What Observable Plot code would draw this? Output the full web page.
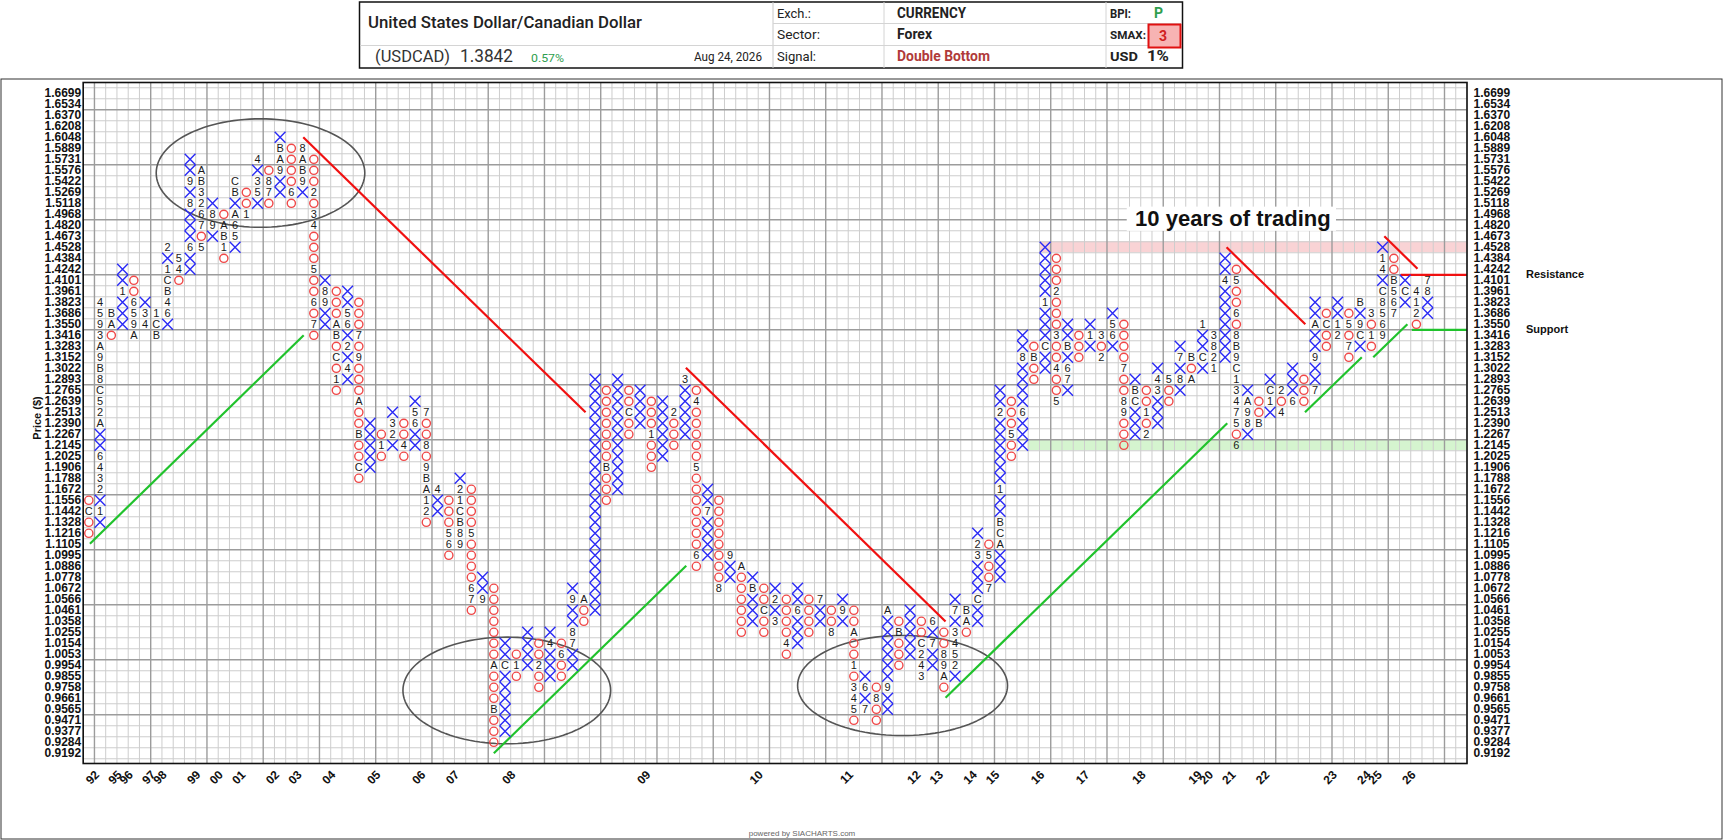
<!DOCTYPE html>
<html>
<head>
<meta charset="utf-8">
<script src="https://cdn.jsdelivr.net/npm/d3@7"></script>
<script src="https://cdn.jsdelivr.net/npm/@observablehq/plot@0.6"></script>
<style>
  body { margin: 0; background: #fff; }
  #wrap { position: relative; width: 1724px; height: 840px; overflow: hidden; background: #fff; }
  #chart { position: absolute; left: 0; top: 0; }
  #overlay { position: absolute; left: 0; top: 0; pointer-events: none; }
</style>
</head>
<body>
<div id="wrap">
  <div id="chart"></div>
  <svg id="overlay" width="1724" height="840" font-family="Roboto, 'Liberation Sans', Arial, sans-serif">
    <rect x="1" y="79" width="1721" height="760" fill="none" stroke="#333" stroke-width="1"/>
    <g id="header">
      <rect x="359.5" y="2" width="823" height="66" fill="#fff" stroke="#111" stroke-width="1.5"/>
      <line x1="773" y1="2" x2="773" y2="68" stroke="#c8c8c8"/>
      <line x1="884" y1="2" x2="884" y2="68" stroke="#d4d4d4"/>
      <line x1="1106" y1="2" x2="1106" y2="68" stroke="#d4d4d4"/>
      <line x1="773" y1="23.5" x2="1182" y2="23.5" stroke="#d4d4d4"/>
      <line x1="360" y1="45.5" x2="1182" y2="45.5" stroke="#d4d4d4"/>
      <text x="368" y="28" font-size="17" font-weight="500" fill="#222" textLength="274" lengthAdjust="spacingAndGlyphs">United States Dollar/Canadian Dollar</text>
      <text x="375" y="62" font-size="17" fill="#333" textLength="75" lengthAdjust="spacingAndGlyphs">(USDCAD)</text>
      <text x="460" y="62" font-size="19" fill="#333" textLength="53" lengthAdjust="spacingAndGlyphs">1.3842</text>
      <text x="531" y="62" font-size="11" fill="#2e9e4e" textLength="33" lengthAdjust="spacingAndGlyphs">0.57%</text>
      <text x="694" y="61" font-size="13" fill="#222" textLength="68" lengthAdjust="spacingAndGlyphs">Aug 24, 2026</text>
      <text x="777" y="17.5" font-size="13" fill="#222" textLength="34" lengthAdjust="spacingAndGlyphs">Exch.:</text>
      <text x="777" y="39" font-size="13" fill="#222" textLength="43" lengthAdjust="spacingAndGlyphs">Sector:</text>
      <text x="777" y="61" font-size="13" fill="#222" textLength="39" lengthAdjust="spacingAndGlyphs">Signal:</text>
      <text x="897" y="17.5" font-size="14" font-weight="bold" fill="#222" textLength="69" lengthAdjust="spacingAndGlyphs">CURRENCY</text>
      <text x="897" y="39" font-size="14" font-weight="bold" fill="#222" textLength="35" lengthAdjust="spacingAndGlyphs">Forex</text>
      <text x="897" y="61" font-size="14" font-weight="bold" fill="#b03a3a" textLength="93" lengthAdjust="spacingAndGlyphs">Double Bottom</text>
      <text x="1110" y="17.5" font-size="13" font-weight="bold" fill="#222" textLength="21" lengthAdjust="spacingAndGlyphs">BPI:</text>
      <text x="1154" y="17.5" font-size="14" font-weight="bold" fill="#2e9e4e">P</text>
      <text x="1110" y="39" font-size="10" font-weight="bold" fill="#222" textLength="36" lengthAdjust="spacingAndGlyphs">SMAX:</text>
      <rect x="1148.5" y="24.5" width="32" height="23" fill="#f7b3b3" stroke="#e01010" stroke-width="2"/>
      <text x="1159" y="41" font-size="14" font-weight="bold" fill="#d02020">3</text>
      <text x="1110" y="61" font-size="13" font-weight="bold" fill="#222" textLength="28" lengthAdjust="spacingAndGlyphs">USD</text>
      <text x="1147" y="61" font-size="14" font-weight="bold" fill="#222" textLength="22" lengthAdjust="spacingAndGlyphs">1%</text>
    </g>
    <text transform="translate(41,418) rotate(-90)" text-anchor="middle" font-size="11" font-weight="bold" fill="#111" font-family="'Liberation Sans', Arial, sans-serif">Price ($)</text>
    <text x="802" y="836" text-anchor="middle" font-size="8" fill="#666" font-family="'Liberation Sans', Arial, sans-serif">powered by SIACHARTS.com</text>
  </svg>
</div>
<script>
// ---------- DATA ----------
// Box prices (1% box size), index 0 = bottom row
const boxPrices = [
  0.9192, 0.9284, 0.9377, 0.9471, 0.9565, 0.9661, 0.9758, 0.9855, 0.9954, 1.0053,
  1.0154, 1.0255, 1.0358, 1.0461, 1.0566, 1.0672, 1.0778, 1.0886, 1.0995, 1.1105,
  1.1216, 1.1328, 1.1442, 1.1556, 1.1672, 1.1788, 1.1906, 1.2025, 1.2145, 1.2267,
  1.2390, 1.2513, 1.2639, 1.2765, 1.2893, 1.3022, 1.3152, 1.3283, 1.3416, 1.3550,
  1.3686, 1.3823, 1.3961, 1.4101, 1.4242, 1.4384, 1.4528, 1.4673, 1.4820, 1.4968,
  1.5118, 1.5269, 1.5422, 1.5576, 1.5731, 1.5889, 1.6048, 1.6208, 1.6370, 1.6534,
  1.6699
];

// Column types (O = falling column, X = rising column)
const colTypes = [
  "OXOXOXOXOXOXOXOXOXOX",
  "OXOXOXOXOXOXOXOXOXOX",
  "OXOXOXOXOXOXOXOXOXOX",
  "OXOXOXOXOXOXOXOXOXOX",
  "OXOXOXOXOXOXOXOXOXOX",
  "OXOXOXOXOXOXOXOXOXOX"
].join("");

// Lowest box (row index) of each column
const colBottom = [
  20, 21, 38, 39, 38, 39, 38, 39, 43, 44,
  46, 47, 45, 46, 49, 50, 50, 51, 50, 51,
  38, 39, 33, 34, 25, 26, 27, 28, 27, 28,
  21, 22, 18, 19, 13, 14, 1, 2, 7, 8,
  6, 7, 7, 8, 12, 13, 23, 24, 29, 30,
  26, 27, 28, 29, 17, 18, 15, 16, 11, 12,
  11, 12, 9, 10, 11, 12, 11, 12, 3, 4,
  3, 4, 8, 9, 7, 8, 6, 7, 11, 12,
  15, 16, 27, 28, 34, 35, 32, 33, 36, 37,
  36, 37, 28, 29, 29, 30, 32, 33, 34, 35,
  35, 36, 28, 29, 30, 31, 31, 32, 32, 33,
  37, 38, 36, 37, 37, 38, 40, 41, 39, 40
];

// Boxes of each column from bottom to top: "." = plain X/O, other = month marker
const colBoxes = [
  "..C.", ".1.2346..A25C8B9A3954", ".AB", "...1..", "A956..", "43.", "BC1", ".64BC1.2", ".45", "..6...8.9..",
  "5.7623BA", ".98.", ".1BA.", ".56A.BC", "1..", ".53.4", ".78.", "..9AB.", ".6....", ".9BA8",
  ".7.6..5...43.2...", "..98.", ".1.C.BA...", ".4.2.65..", ".C..B..A...9.7...", ".....", ".1.", ".23.", ".4..", "..65.",
  ".21AB9.8..7", "..4", ".65...", "98BC12.", ".76....5....", "9..", "...B...A.......", "......C..", ".1.", "....",
  "..2..", "...4.", "..6.", "..78..9.", "..A", "......................", "...B.......", "...........", "..C..", "....",
  "...1...", "......", "...2", ".....3", ".6.......5.....4.", "....7..", "8........", "..9", "......A", "...B.",
  "..C..", "3.2.", ".4....", "...6..", "....", "..7", "8..", ".9.", ".543.1..A..", "7.6.",
  "..8.", "..9......A", "...B.", ".....", "342C..", "..7.6", ".A98..", ".2543.7.", ".AB", "..C...32.",
  "7..5.", "...ACB..1......2..", "..5...", "...6....8..", "..B.", "..C...1.....", "5..4..3...2...", ".76.B..", "...", ".1.",
  "2.3", ".65.", "...98..7....", "...CB.", "2.1..", "...34.", "..5", ".8.7.", "A.B", ".C..1",
  "1283", ".......4..", "6.57431C9B8.6..5.", ".89A.", "B..", ".1C.", "4.2", "6...", "...", "7..9..A..",
  "..C.", "21..", ".7.5.", ".C9.B", ".1.3", "9658C.41.", "765B..", ".C.", ".214", "..87"
];

// Year labels on the x axis and the column where each year starts
const yearLabels = ["92","95","96","97","98","99","00","01","02","03","04","05","06","07","08","09","10",
                    "11","12","13","14","15","16","17","18","19","20","21","22","23","24","25","26"];
const yearColumns = [1, 3, 4, 6, 7, 10, 12, 14, 17, 19, 22, 26, 30, 33, 38, 50, 60,
                     68, 74, 76, 79, 81, 85, 89, 94, 99, 100, 102, 105, 111, 114, 115, 118];

// Trend lines in (column, row) units
const redLines = [
  [19.06, 56.0, 44.15, 31.0],
  [53.07, 35.05, 76.15, 11.98],
  [101.13, 46.0, 108.13, 39.0],
  [115.15, 47.0, 118.1, 44.05],
  [116.6, 43.5, 122.5, 43.5]
];
const greenLines = [
  [0.1, 19.05, 19.1, 38.0],
  [36.0, 0.0, 53.1, 17.05],
  [76.15, 5.05, 101.19, 30.0],
  [108.1, 31.0, 113.15, 36.0],
  [114.17, 36.0, 117.2, 39.0],
  [117.6, 38.5, 122.5, 38.5]
];
// Ellipses: center column, center row, half-width (columns), half-height (rows)
const ellipses = [
  [15.26, 52.75, 9.27, 4.93],
  [37.15, 5.71, 9.23, 4.85],
  [72.33, 6.16, 9.33, 4.55]
];
// Highlight bands: first column, row
const pinkBand = {fromCol: 85, row: 46};
const greenBand = {fromCol: 84, row: 28};
const sideLabels = [{text: "Resistance", row: 43.5}, {text: "Support", row: 38.5}];
const note = {text: "10 years of trading", col: 93.0, row: 48.6, colEnd: 110.9, rowLow: 47.45, rowHigh: 49.65};

// ---------- BUILD ----------
const NCOLS = 123;
const boxes = [];
colBoxes.forEach((s, i) => {
  [...s].forEach((c, j) => boxes.push({col: i, row: colBottom[i] + j, type: colTypes[i], mark: c}));
});
const xBoxes = boxes.filter(b => b.mark === "." && b.type === "X");
const oBoxes = boxes.filter(b => b.mark === "." && b.type === "O");
const monthBoxes = boxes.filter(b => b.mark !== ".");

const vBounds = d3.range(0, NCOLS + 1).map(j => ({v: j - 0.5, major: j % 5 === 1}));
const hBounds = d3.range(0, boxPrices.length + 1).map(k => ({v: k - 0.5, major: k % 5 === 4}));

const ellPts = ellipses.flatMap((e, i) => d3.range(0, 121).map(t => {
  const a = t / 120 * 2 * Math.PI;
  return {i, x: e[0] + e[2] * Math.cos(a), y: e[1] + e[3] * Math.sin(a)};
}));

const lineObj = arr => arr.map(d => ({x1: d[0], y1: d[1], x2: d[2], y2: d[3]}));

const font = "'Liberation Sans', Arial, Helvetica, sans-serif";

const chart = Plot.plot({
  width: 1724,
  height: 840,
  marginLeft: 82.7,
  marginRight: 257.5,
  marginTop: 82,
  marginBottom: 77,
  x: {domain: [-0.5, NCOLS - 0.5], axis: null},
  y: {domain: [-0.93, 60.98], axis: null},
  style: {fontFamily: font, fontSize: "11px", background: "transparent", overflow: "visible", color: "#111"},
  marks: [
    Plot.rect([pinkBand], {x1: d => d.fromCol - 0.5, x2: NCOLS - 0.5, y1: d => d.row - 0.5, y2: d => d.row + 0.5, fill: "#f9d3d5"}),
    Plot.rect([greenBand], {x1: d => d.fromCol - 0.5, x2: NCOLS - 0.5, y1: d => d.row - 0.5, y2: d => d.row + 0.5, fill: "#d5f4cf"}),
    Plot.ruleX(vBounds.filter(d => !d.major), {x: "v", stroke: "#cdcdcd", strokeWidth: 1}),
    Plot.ruleY(hBounds.filter(d => !d.major), {y: "v", stroke: "#cdcdcd", strokeWidth: 1}),
    Plot.ruleX(vBounds.filter(d => d.major), {x: "v", stroke: "#9c9c9c", strokeWidth: 1.4}),
    Plot.ruleY(hBounds.filter(d => d.major), {y: "v", stroke: "#9c9c9c", strokeWidth: 1.4}),
    Plot.rect([note], {x1: d => d.col - 0.7, x2: "colEnd", y1: "rowLow", y2: "rowHigh", fill: "white"}),
    Plot.line(ellPts, {x: "x", y: "y", z: "i", stroke: "#555", strokeWidth: 1.6}),
    Plot.link(lineObj(redLines), {x1: "x1", y1: "y1", x2: "x2", y2: "y2", stroke: "#f01010", strokeWidth: 2.2}),
    Plot.link(lineObj(greenLines), {x1: "x1", y1: "y1", x2: "x2", y2: "y2", stroke: "#20c22c", strokeWidth: 2.2}),
    Plot.dot(oBoxes, {x: "col", y: "row", r: 4.1, stroke: "#f04848", strokeWidth: 1.4, fill: "none"}),
    Plot.dot(xBoxes, {x: "col", y: "row", r: 5.0, symbol: "times", stroke: "#2a2af5", strokeWidth: 1.4}),
    Plot.text(monthBoxes, {x: "col", y: "row", text: "mark", fontSize: 11, fill: "#1a1a1a"}),
    Plot.text([note], {x: "col", y: "row", text: "text", textAnchor: "start", fontSize: 22, fontWeight: "bold", fill: "#111"}),
    Plot.text(sideLabels, {y: "row", text: "text", frameAnchor: "right", textAnchor: "start", dx: 59, fontSize: 11, fontWeight: "bold", fill: "#111"}),
    Plot.text(boxPrices, {y: (d, i) => i, text: d => d.toFixed(4), frameAnchor: "left", textAnchor: "end", dx: -2, fontSize: 12, fontWeight: "bold", fill: "#111"}),
    Plot.text(boxPrices, {y: (d, i) => i, text: d => d.toFixed(4), frameAnchor: "right", textAnchor: "start", dx: 6.5, fontSize: 12, fontWeight: "bold", fill: "#111"}),
    Plot.text(yearLabels, {x: (d, i) => yearColumns[i], text: d => d, frameAnchor: "bottom", textAnchor: "end", rotate: -45, dy: 12, fontSize: 12, fontWeight: "bold", fill: "#111"}),
    Plot.frame({stroke: "#111", strokeWidth: 1.6})
  ]
});
document.getElementById("chart").appendChild(chart);
</script>
</body>
</html>
